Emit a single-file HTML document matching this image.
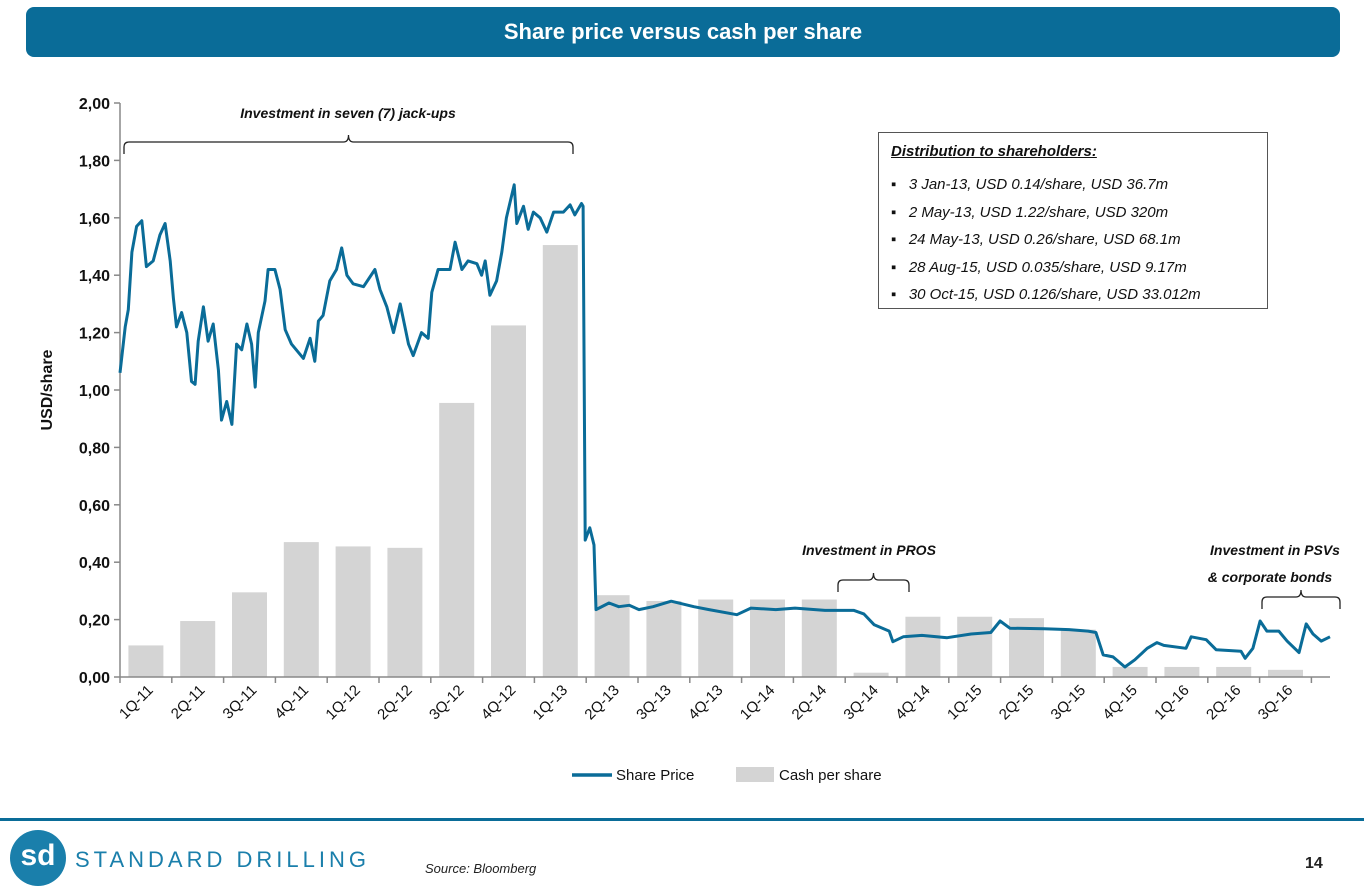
<!DOCTYPE html>
<html><head><meta charset="utf-8"><style>
body{margin:0;width:1364px;height:896px;background:#fff;font-family:"Liberation Sans",sans-serif;overflow:hidden;position:relative}
</style></head><body>
<div style="position:absolute;left:26px;top:7px;width:1314px;height:50px;background:#0a6c98;border-radius:8px;color:#fff;font-weight:bold;font-size:22px;line-height:50px;text-align:center">Share price versus cash per share</div>
<svg id="chart" width="1364" height="896" style="position:absolute;left:0;top:0" xmlns="http://www.w3.org/2000/svg" font-family="Liberation Sans, sans-serif"></svg>
<div style="position:absolute;left:878px;top:132px;width:388px;height:175px;border:1px solid #555;font-style:italic;font-size:15px;color:#111">
<div style="position:absolute;left:12px;top:10px;font-weight:bold;text-decoration:underline">Distribution to shareholders:</div>
<div style="position:absolute;left:12px;top:38px;line-height:27.5px">
<div>▪&nbsp;&nbsp;&nbsp;3 Jan-13, USD 0.14/share, USD 36.7m</div>
<div>▪&nbsp;&nbsp;&nbsp;2 May-13, USD 1.22/share, USD 320m</div>
<div>▪&nbsp;&nbsp;&nbsp;24 May-13, USD 0.26/share, USD 68.1m</div>
<div>▪&nbsp;&nbsp;&nbsp;28 Aug-15, USD 0.035/share, USD 9.17m</div>
<div>▪&nbsp;&nbsp;&nbsp;30 Oct-15, USD 0.126/share, USD 33.012m</div>
</div></div>
<div style="position:absolute;left:0;top:818px;width:1364px;height:3px;background:#0a6c98"></div>
<div style="position:absolute;left:10px;top:830px;width:56px;height:56px;border-radius:50%;background:#1a7fab;color:#fff;font-weight:bold;font-size:30px;line-height:52px;text-align:center">sd</div>
<div style="position:absolute;left:75px;top:847px;font-size:22px;letter-spacing:4px;color:#1a7fab">STANDARD DRILLING</div>
<div style="position:absolute;left:425px;top:861px;font-size:13px;font-style:italic;color:#222">Source: Bloomberg</div>
<div style="position:absolute;left:1305px;top:855px;font-size:16px;font-weight:bold;color:#222">14</div>
<script>
const categories=["1Q-11","2Q-11","3Q-11","4Q-11","1Q-12","2Q-12","3Q-12","4Q-12","1Q-13","2Q-13","3Q-13","4Q-13","1Q-14","2Q-14","3Q-14","4Q-14","1Q-15","2Q-15","3Q-15","4Q-15","1Q-16","2Q-16","3Q-16"];
const cashPerShare=[0.11,0.195,0.295,0.47,0.455,0.45,0.955,1.225,1.505,0.285,0.265,0.27,0.27,0.27,0.015,0.21,0.21,0.205,0.165,0.035,0.035,0.035,0.025];
const priceTime=[0,0.10,0.16,0.23,0.32,0.42,0.51,0.64,0.77,0.87,0.97,1.03,1.09,1.19,1.29,1.38,1.45,1.51,1.61,1.70,1.80,1.90,1.96,2.06,2.16,2.25,2.35,2.45,2.54,2.61,2.67,2.80,2.86,2.99,3.09,3.19,3.31,3.54,3.67,3.76,3.83,3.92,4.05,4.18,4.28,4.38,4.50,4.70,4.92,5.02,5.15,5.28,5.41,5.57,5.66,5.82,5.95,6.02,6.14,6.37,6.47,6.60,6.72,6.89,6.98,7.05,7.14,7.27,7.37,7.46,7.61,7.66,7.79,7.88,7.98,8.11,8.24,8.37,8.56,8.69,8.78,8.91,8.94,8.98,9.07,9.15,9.19,9.44,9.63,9.83,10.02,10.29,10.64,11.08,11.37,11.91,12.18,12.66,13.03,13.61,14.17,14.36,14.56,14.85,14.92,15.12,15.48,15.97,16.43,16.81,16.99,17.18,17.84,18.32,18.69,18.84,18.98,19.17,19.40,19.59,19.83,20.02,20.15,20.58,20.68,20.97,21.16,21.64,21.72,21.87,22.01,22.14,22.37,22.53,22.76,22.90,23.03,23.19,23.36];
const priceValues=[1.06,1.22,1.28,1.48,1.57,1.59,1.43,1.45,1.54,1.58,1.45,1.32,1.22,1.27,1.20,1.03,1.02,1.17,1.29,1.17,1.23,1.07,0.895,0.96,0.88,1.16,1.14,1.23,1.16,1.01,1.20,1.31,1.42,1.42,1.35,1.21,1.16,1.11,1.18,1.10,1.24,1.26,1.38,1.42,1.495,1.40,1.37,1.36,1.42,1.35,1.29,1.20,1.30,1.16,1.12,1.20,1.18,1.34,1.42,1.42,1.515,1.42,1.45,1.44,1.40,1.45,1.33,1.38,1.48,1.60,1.715,1.58,1.64,1.56,1.62,1.60,1.55,1.62,1.62,1.645,1.61,1.65,1.64,0.477,0.52,0.46,0.235,0.258,0.245,0.25,0.235,0.245,0.264,0.245,0.235,0.217,0.24,0.235,0.24,0.232,0.232,0.22,0.182,0.16,0.123,0.14,0.145,0.137,0.15,0.155,0.195,0.17,0.168,0.165,0.16,0.155,0.077,0.07,0.035,0.06,0.10,0.12,0.11,0.10,0.14,0.13,0.095,0.09,0.065,0.10,0.195,0.16,0.16,0.125,0.085,0.185,0.15,0.125,0.14];
const yTicks=[0,0.2,0.4,0.6,0.8,1.0,1.2,1.4,1.6,1.8,2.0];
const yTickLabels=["0,00","0,20","0,40","0,60","0,80","1,00","1,20","1,40","1,60","1,80","2,00"];

const svg=document.getElementById('chart');
const NS='http://www.w3.org/2000/svg';
const X0=120,BAND=51.8,Y0=677,YMAX=2.0,H=574;
const xT=t=>X0+t*BAND;
const yV=v=>Y0-v/YMAX*H;
function mk(tag,attrs,parent){const e=document.createElementNS(NS,tag);for(const k in attrs)e.setAttribute(k,attrs[k]);(parent||svg).appendChild(e);return e;}

cashPerShare.forEach((v,i)=>{
  const r=mk('rect',{x:xT(i+0.5)-17.5,y:yV(v),width:35,height:Y0-yV(v),fill:'#d4d4d4'});
  
  
});
const ya=mk('line',{x1:X0,y1:yV(2),x2:X0,y2:Y0,stroke:'#888','stroke-width':1.5});


const xa=mk('line',{x1:X0,y1:Y0,x2:1330,y2:Y0,stroke:'#888','stroke-width':1.5});


yTicks.forEach((v,i)=>{
  mk('line',{x1:X0-6,y1:yV(v),x2:X0,y2:yV(v),stroke:'#888','stroke-width':1.5});
  const t=mk('text',{x:X0-10,y:yV(v)+6,'text-anchor':'end','font-size':16,'font-weight':'bold',fill:'#111'});
  t.textContent=yTickLabels[i];
  
  
});
for(let i=0;i<=categories.length;i++) mk('line',{x1:xT(i),y1:Y0,x2:xT(i),y2:Y0+6,stroke:'#888','stroke-width':1.5});
categories.forEach((c,i)=>{
  const cx=xT(i+0.5)+8,cy=Y0+14;
  const t=mk('text',{x:cx,y:cy,'text-anchor':'end','font-size':15,fill:'#111',transform:`rotate(-45 ${cx} ${cy})`});
  t.textContent=c;
  
  
});
const yt=mk('text',{x:52,y:390,'text-anchor':'middle','font-size':16,'font-weight':'bold',fill:'#111',transform:'rotate(-90 52 390)'});
yt.textContent='USD/share';


const pts=priceTime.map((t,i)=>xT(t).toFixed(1)+','+yV(priceValues[i]).toFixed(1)).join(' ');
const pl=mk('polyline',{points:pts,fill:'none',stroke:'#0a6c98','stroke-width':3,'stroke-linejoin':'round'});


function brace(x1,x2,y,name){
  const m=(x1+x2)/2;
  const p=mk('path',{d:`M${x1},${y+12} L${x1},${y+5} Q${x1},${y} ${x1+5},${y} L${m-5},${y} Q${m},${y} ${m},${y-7} Q${m},${y} ${m+5},${y} L${x2-5},${y} Q${x2},${y} ${x2},${y+5} L${x2},${y+12}`,fill:'none',stroke:'#222','stroke-width':1.3});
  
  
}
brace(124,573,142,'jackups-brace');
brace(838,909,580,'pros-brace');
brace(1262,1340,597,'psv-brace');
function label(x,y,s,name){const t=mk('text',{x:x,y:y,'text-anchor':'middle','font-size':14,'font-weight':'bold','font-style':'italic',fill:'#111'});t.textContent=s;

}
label(348,118,'Investment in seven (7) jack-ups','jackups-annotation');
label(869,555,'Investment in PROS','pros-annotation');
label(1275,555,'Investment in PSVs','psv-annotation');
label(1270,582,'& corporate bonds','bonds-annotation');
const l1=mk('line',{x1:572,y1:775,x2:612,y2:775,stroke:'#0a6c98','stroke-width':3.5});


const lt1=mk('text',{x:616,y:780,'font-size':15,fill:'#111'});lt1.textContent='Share Price';


const l2=mk('rect',{x:736,y:767,width:38,height:15,fill:'#d4d4d4'});


const lt2=mk('text',{x:779,y:780,'font-size':15,fill:'#111'});lt2.textContent='Cash per share';


</script>
</body></html>
